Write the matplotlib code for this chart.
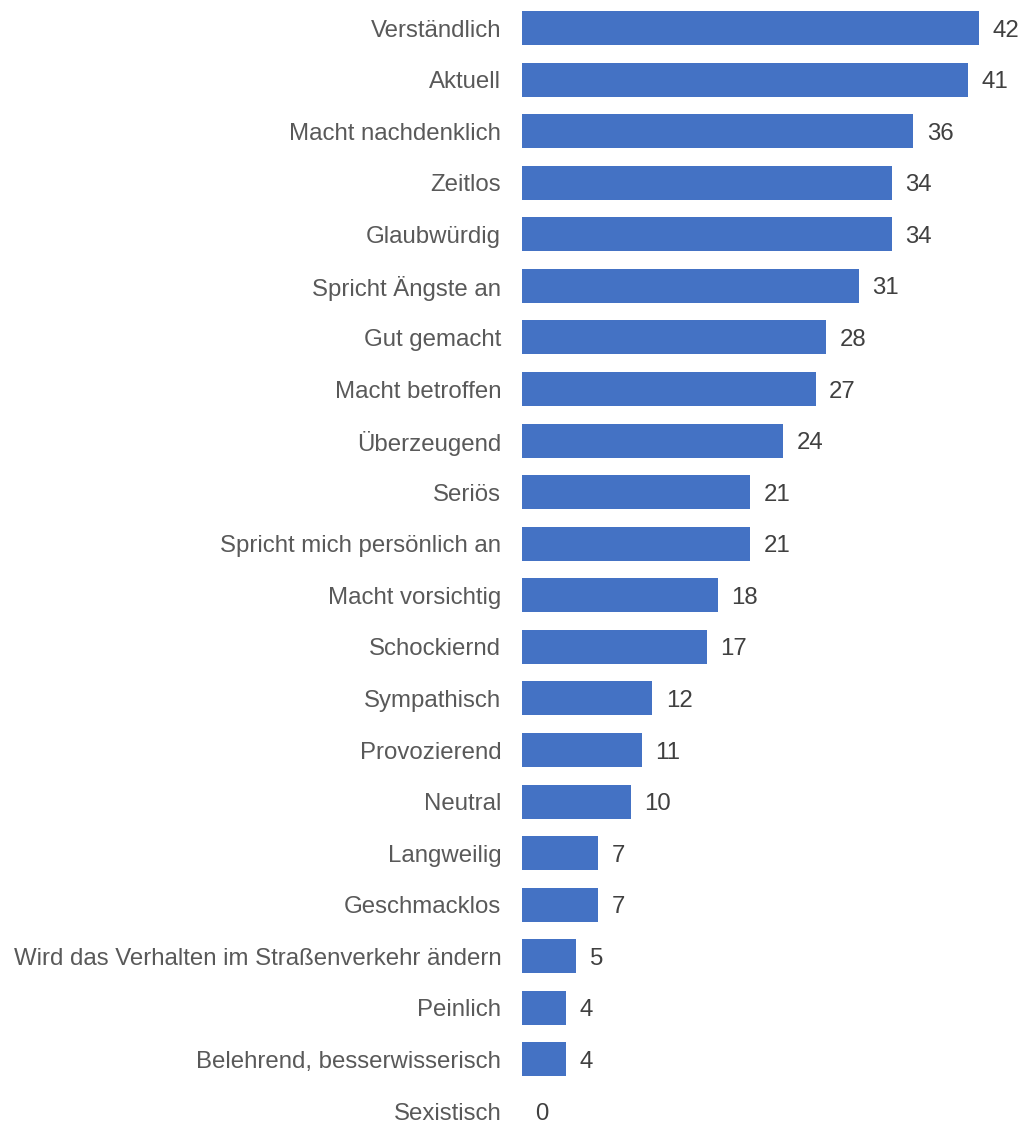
import matplotlib
matplotlib.use("Agg")
import matplotlib.pyplot as plt

labels = ["Verständlich", "Aktuell", "Macht nachdenklich", "Zeitlos", "Glaubwürdig",
          "Spricht Ängste an", "Gut gemacht", "Macht betroffen", "Überzeugend", "Seriös",
          "Spricht mich persönlich an", "Macht vorsichtig", "Schockiernd", "Sympathisch",
          "Provozierend", "Neutral", "Langweilig", "Geschmacklos",
          "Wird das Verhalten im Straßenverkehr ändern", "Peinlich",
          "Belehrend, besserwisserisch", "Sexistisch"]
values = [42, 41, 36, 34, 34, 31, 28, 27, 24, 21, 21, 18, 17, 12, 11, 10, 7, 7, 5, 4, 4, 0]

plt.rcParams['font.family'] = ['Liberation Sans', 'DejaVu Sans']

fig = plt.figure(figsize=(10.26, 11.26), dpi=100)
ax = fig.add_axes([0.5088, 0, 0.48, 1])

pos = list(range(len(labels)))
ax.barh(pos, values, height=0.66, color="#4472C4")
for p, v in zip(pos, values):
    ax.text(v + 1.25, p, str(v), va="center_baseline", ha="left", fontsize=17.3, color="#404040")

ax.set_yticks(pos)
ax.set_yticklabels(labels, fontsize=17.3, color="#595959", va="center_baseline")
ax.tick_params(axis="y", length=0, pad=15)
ax.set_xticks([])
ax.set_xlim(0, 45.3)
ax.set_ylim(21.29, -0.543)
for s in ax.spines.values():
    s.set_visible(False)

fig.savefig("out.png", dpi=100)
